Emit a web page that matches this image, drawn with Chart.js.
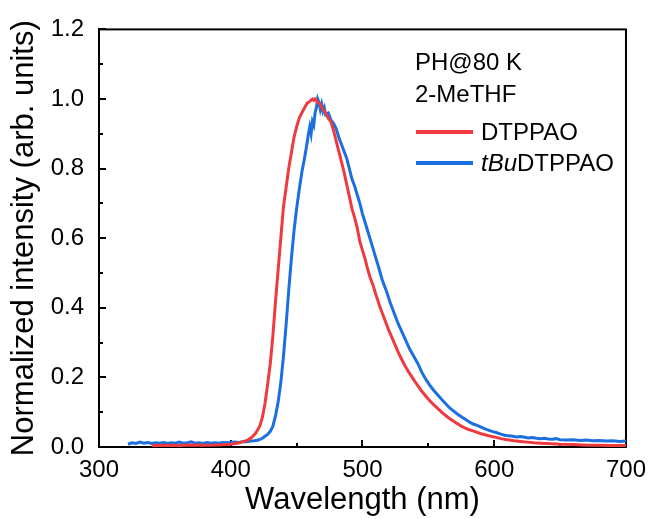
<!DOCTYPE html>
<html>
<head>
<meta charset="utf-8">
<script src="https://cdn.jsdelivr.net/npm/chart.js@4.4.1/dist/chart.umd.min.js"></script>
<style>
  html, body { margin: 0; padding: 0; background: #fff; }
  #wrap { position: relative; width: 655px; height: 519px; font-family: "Liberation Sans", Arial, sans-serif; }
  #c { position: absolute; left: 0; top: 0; }
  .note { position: absolute; font-size: 24px; line-height: 24px; color: #000; white-space: nowrap; }
  .sw { position: absolute; height: 4px; }
</style>
</head>
<body>
<div id="wrap">
  <canvas id="c" width="655" height="519"></canvas>
</div>
<script>
// ---- data ----
const annotationLines = ["PH@80 K", "2-MeTHF"];
const seriesNames = ["DTPPAO", "tBuDTPPAO"];
const seriesColors = ["#EF3B3F", "#1C6FE0"];

const xTickValues = [300, 400, 500, 600, 700];
const yTickValues = [0.0, 0.2, 0.4, 0.6, 0.8, 1.0, 1.2];

const redWavelength = [340,350,360,370,380,390,400,405,410,413,416,419,422,424,426,428,430,432,434,436,438,440,442,444,446,448,450,452,454,456,458,460,462,463,464,466,468,470,472,474,476,478,480,482,484,486,488,490,492,494,496,498,500,502,504,506,508,510,513,516,520,524,528,532,536,540,545,550,555,560,565,570,575,580,585,590,595,600,605,610,615,620,625,630,635,640,650,660,670,680,690,700];
const redIntensity = [0.004,0.005,0.004,0.006,0.005,0.006,0.008,0.011,0.016,0.020,0.028,0.040,0.060,0.085,0.125,0.180,0.240,0.320,0.420,0.510,0.600,0.690,0.745,0.800,0.845,0.890,0.920,0.945,0.960,0.975,0.988,0.993,1.000,0.996,1.000,0.990,0.985,0.970,0.960,0.945,0.935,0.910,0.880,0.850,0.820,0.790,0.755,0.720,0.685,0.660,0.630,0.590,0.565,0.540,0.510,0.485,0.465,0.440,0.405,0.375,0.335,0.300,0.265,0.235,0.210,0.187,0.160,0.137,0.118,0.100,0.085,0.072,0.060,0.051,0.045,0.038,0.033,0.029,0.024,0.021,0.018,0.016,0.014,0.012,0.011,0.010,0.008,0.007,0.005,0.005,0.004,0.004];

const blueWavelength = [322,325,328,331,334,337,340,343,346,349,352,355,358,361,364,367,370,373,376,379,382,385,388,391,394,397,400,403,406,409,412,415,418,421,424,426,428,430,432,434,436,438,440,442,444,446,448,450,452,454,456,458,459,460,461,462,463,464,465,466,467,468,469,470,471,472,474,476,478,480,482,484,486,488,490,492,494,496,498,500,502,504,506,508,510,512,515,518,521,524,527,530,533,536,539,542,545,548,551,554,557,560,563,566,569,572,575,578,581,584,587,590,593,596,599,602,605,608,611,614,617,620,623,626,629,632,635,638,641,644,647,650,655,660,665,670,675,680,685,690,695,700];
const blueIntensity = [0.008,0.012,0.010,0.014,0.011,0.013,0.010,0.012,0.011,0.013,0.010,0.012,0.011,0.014,0.011,0.012,0.015,0.011,0.012,0.010,0.013,0.011,0.012,0.011,0.013,0.012,0.013,0.014,0.013,0.015,0.015,0.017,0.018,0.020,0.025,0.031,0.036,0.045,0.060,0.090,0.130,0.185,0.260,0.350,0.450,0.540,0.620,0.685,0.740,0.790,0.830,0.875,0.900,0.920,0.900,0.935,0.925,0.960,0.975,1.000,0.990,0.970,0.985,0.965,0.975,0.955,0.960,0.940,0.930,0.915,0.890,0.870,0.850,0.830,0.800,0.770,0.750,0.725,0.700,0.670,0.645,0.620,0.595,0.570,0.545,0.520,0.480,0.450,0.415,0.385,0.355,0.330,0.305,0.280,0.260,0.240,0.215,0.195,0.178,0.163,0.150,0.137,0.125,0.113,0.104,0.095,0.087,0.080,0.072,0.066,0.062,0.057,0.052,0.048,0.044,0.041,0.037,0.034,0.032,0.031,0.029,0.030,0.028,0.026,0.027,0.025,0.024,0.025,0.023,0.022,0.024,0.021,0.020,0.021,0.019,0.020,0.018,0.019,0.017,0.018,0.016,0.017];

function pairs(xs, ys) { return xs.map((x, i) => ({ x: x, y: ys[i] })); }

// ---- frame + inward ticks (major & minor) ----
const framePlugin = {
  id: 'frameTicks',
  beforeDatasetsDraw(chart) {
    const { ctx, chartArea: a, scales } = chart;
    const xs = scales.x, ys = scales.y;
    ctx.save();
    ctx.strokeStyle = '#000';
    ctx.lineWidth = 2;
    ctx.strokeRect(a.left, a.top, a.right - a.left, a.bottom - a.top);
    ctx.lineWidth = 2;
    ctx.beginPath();
    for (let v = xs.min; v <= xs.max + 1e-9; v += 50) {
      const p = Math.round(xs.getPixelForValue(v));
      const len = (Math.round(v) % 100 === 0) ? 7 : 4;
      ctx.moveTo(p, a.bottom); ctx.lineTo(p, a.bottom - len);
    }
    for (let k = 0; k <= 12; k++) {
      const v = k / 10;
      const p = Math.round(ys.getPixelForValue(v));
      const len = (k % 2 === 0) ? 7 : 4;
      ctx.moveTo(a.left, p); ctx.lineTo(a.left + len, p);
    }
    ctx.stroke();
    ctx.restore();
  }
};

const tickFont = { family: '"Liberation Sans", Arial, sans-serif', size: 24 };
const titleFont = { family: '"Liberation Sans", Arial, sans-serif', size: 31 };

const chart = new Chart(document.getElementById('c'), {
  type: 'line',
  data: {
    datasets: [
      { label: seriesNames[0], data: pairs(redWavelength, redIntensity), borderColor: seriesColors[0], backgroundColor: seriesColors[0], borderWidth: 3, pointRadius: 0, tension: 0, fill: false },
      { label: seriesNames[1], data: pairs(blueWavelength, blueIntensity), borderColor: seriesColors[1], backgroundColor: seriesColors[1], borderWidth: 3, pointRadius: 0, tension: 0, fill: false }
    ]
  },
  options: {
    responsive: false,
    devicePixelRatio: 1,
    animation: false,
    layout: { padding: { top: 28, right: 23, left: 0, bottom: 0 } },
    plugins: { legend: { display: false }, tooltip: { enabled: false } },
    scales: {
      x: {
        type: 'linear', min: 300, max: 700,
        afterBuildTicks(s) { s.ticks = xTickValues.map(v => ({ value: v })); },
        afterFit(s) { s.height = 72; },
        ticks: { color: '#000', font: tickFont, padding: 9, maxRotation: 0, autoSkip: false },
        grid: { display: true, drawOnChartArea: false, drawTicks: false },
        border: { display: true, color: '#000', width: 2 },
        title: { display: true, text: 'Wavelength (nm)', color: '#000', font: titleFont, padding: { top: 0, bottom: 0 } }
      },
      y: {
        type: 'linear', min: 0, max: 1.2,
        afterBuildTicks(s) { s.ticks = yTickValues.map(v => ({ value: v })); },
        afterFit(s) { s.width = 99; },
        ticks: { color: '#000', font: tickFont, padding: 15, callback: v => Number(v).toFixed(1), autoSkip: false },
        grid: { display: true, drawOnChartArea: false, drawTicks: false },
        border: { display: true, color: '#000', width: 2 },
        title: { display: true, text: 'Normalized intensity (arb. units)', color: '#000', font: titleFont, padding: { top: 6, bottom: 0 } }
      }
    }
  },
  plugins: [framePlugin]
});

// ---- legend / annotation as HTML text ----
const wrap = document.getElementById('wrap');
function addNote(html, left, centerY) {
  const d = document.createElement('div');
  d.className = 'note';
  d.innerHTML = html;
  d.style.left = left + 'px';
  d.style.top = (centerY - 12) + 'px';
  wrap.appendChild(d);
  return d;
}
addNote(annotationLines[0], 415, 62);
addNote(annotationLines[1], 415, 94);
const legendRows = [132, 163];
chart.data.datasets.forEach((ds, i) => {
  const sw = document.createElement('div');
  sw.className = 'sw';
  sw.style.left = '416px';
  sw.style.width = '57px';
  sw.style.top = (legendRows[i] - 2) + 'px';
  sw.style.background = ds.borderColor;
  wrap.appendChild(sw);
  let label = ds.label;
  if (label.indexOf('tBu') === 0) label = '<i>tBu</i>' + label.slice(3);
  addNote(label, 481, legendRows[i]);
});
</script>
</body>
</html>
